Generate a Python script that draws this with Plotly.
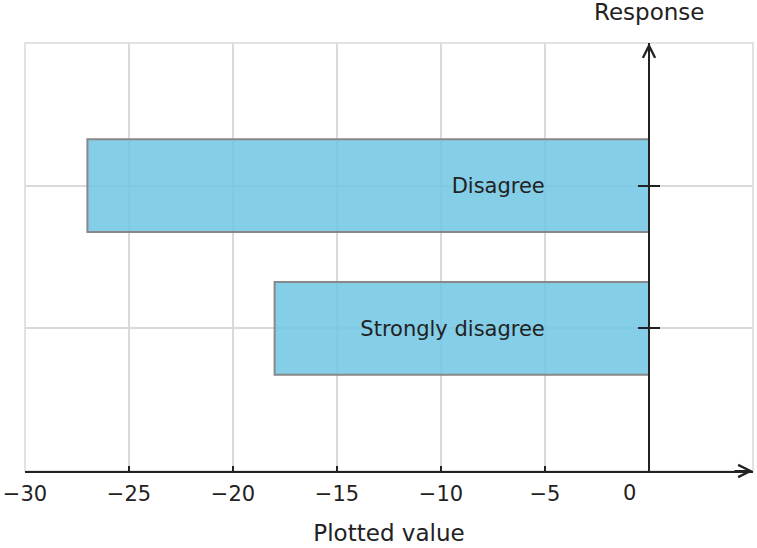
import plotly.graph_objects as go

categories = ["Strongly disagree", "Disagree"]
values = [-18, -27]
x_tickvals = [-30, -25, -20, -15, -10, -5]
x_ticktext = ["\u221230", "\u221225", "\u221220", "\u221215", "\u221210", "\u22125"]

FONT = "DejaVu Sans"
DARK = "#222222"
GRID = "#d9d9d9"
XMIN, XMAX = -30, 5
YMIN, YMAX = -1, len(categories)
ypos = (0 - XMIN) / (XMAX - XMIN)
yidx = list(range(len(categories)))

fig = go.Figure()
fig.add_trace(go.Bar(
    y=yidx, x=values, orientation="h", width=0.65,
    marker=dict(color="rgba(111,198,228,0.85)", line=dict(color="#888888", width=2)),
    showlegend=False, customdata=categories, hovertemplate="%{customdata}: %{x}<extra></extra>",
))
# invisible trace to activate yaxis2 (right half of the crossing ticks)
fig.add_trace(go.Scatter(y=yidx, x=[None] * len(yidx), yaxis="y2", showlegend=False,
                         mode="markers", hoverinfo="skip"))

fig.update_layout(
    width=757, height=548,
    margin=dict(l=25, r=4, t=43, b=77, autoexpand=False),
    paper_bgcolor="white", plot_bgcolor="white",
    font=dict(family=FONT, color=DARK, size=21),
    xaxis=dict(
        range=[XMIN, XMAX], tickvals=x_tickvals, ticktext=x_ticktext,
        showgrid=True, gridcolor=GRID, gridwidth=1.5,
        showline=True, linecolor=DARK, linewidth=2,
        ticks="inside", ticklen=5, tickwidth=2, tickcolor=DARK,
        zeroline=False, automargin=False, ticklabelstandoff=3,
        tickfont=dict(size=21, color=DARK),
        title=dict(text="Plotted value", font=dict(size=23, color=DARK), standoff=20),
    ),
    yaxis=dict(
        range=[YMIN, YMAX], tickvals=yidx, ticktext=categories,
        anchor="free", position=ypos,
        showgrid=True, gridcolor=GRID, gridwidth=1.5,
        showline=True, linecolor=DARK, linewidth=2,
        ticks="outside", ticklen=10, tickwidth=2, tickcolor=DARK,
        ticklabelstandoff=89, automargin=False,
        tickfont=dict(size=21, color=DARK),
        zeroline=False,
    ),
    yaxis2=dict(
        range=[YMIN, YMAX], tickvals=yidx,
        overlaying="y", side="right", anchor="free", position=ypos,
        showgrid=False, showline=False, showticklabels=False, zeroline=False,
        ticks="outside", ticklen=10, tickwidth=2, tickcolor=DARK, automargin=False,
    ),
    shapes=[dict(type="rect", xref="paper", yref="paper", x0=0, x1=1, y0=0, y1=1,
                 line=dict(color=GRID, width=1.5), layer="below")],
    annotations=[
        dict(text="0", x=0, xref="x", y=YMIN, yref="y", yanchor="middle", yshift=-22,
             xshift=-20, showarrow=False, font=dict(size=21, color=DARK)),
        dict(text="Response", x=0, xref="x", y=YMAX, yref="y", yanchor="middle",
             yshift=31, showarrow=False, font=dict(size=23, color=DARK)),
        dict(x=XMAX, y=YMIN, xref="x", yref="y", ax=-20, ay=0, text="",
             showarrow=True, arrowhead=5, arrowsize=1.2, arrowwidth=2, arrowcolor=DARK),
        dict(x=0, y=YMAX, xref="x", yref="y", ax=0, ay=20, text="",
             showarrow=True, arrowhead=5, arrowsize=1.2, arrowwidth=2, arrowcolor=DARK),
    ],
)

post = ("document.body.style.margin='0';document.body.style.overflow='hidden';"
        "Plotly.relayout(document.getElementById('{plot_id}'), {width:757, height:548});")
fig.write_html("out.html", config={"responsive": False, "displayModeBar": False},
               post_script=post)
